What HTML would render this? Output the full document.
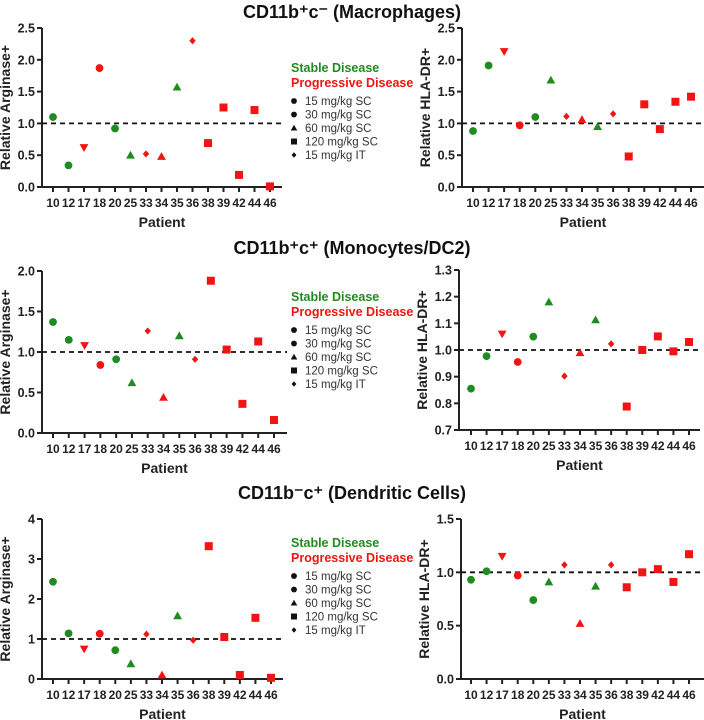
<!DOCTYPE html>
<html><head><meta charset="utf-8"><style>
html,body{margin:0;padding:0;background:#fff;}
svg{display:block;font-family:"Liberation Sans",Arial,sans-serif;}
</style></head><body>
<svg id="fig" width="704" height="720" viewBox="0 0 704 720"></svg>
<script>
const patients=["10","12","17","18","20","25","33","34","35","36","38","39","42","44","46"];
const shapes=["circle","circle","down","circle","circle","tri","diamond","tri","tri","diamond","square","square","square","square","square"];
const groups=["S","S","P","P","S","S","P","P","S","P","P","P","P","P","P"];
const argMacro=[1.1,0.34,0.62,1.87,0.92,0.5,0.52,0.48,1.57,2.3,0.69,1.25,0.19,1.21,0.01];
const hlaMacro=[0.88,1.91,2.13,0.97,1.1,1.68,1.11,1.06,0.95,1.15,0.48,1.3,0.91,1.34,1.42];
const argMono=[1.37,1.15,1.08,0.84,0.91,0.62,1.26,0.44,1.2,0.91,1.88,1.03,0.36,1.13,0.16];
const hlaMono=[0.855,0.977,1.06,0.955,1.05,1.18,0.902,0.99,1.113,1.023,0.788,1.0,1.051,0.995,1.03];
const argDC=[2.43,1.14,0.75,1.13,0.72,0.38,1.12,0.1,1.58,0.97,3.32,1.05,0.1,1.53,0.03];
const hlaDC=[0.93,1.01,1.15,0.97,0.74,0.91,1.07,0.52,0.87,1.07,0.86,1.0,1.03,0.91,1.17];
const ticksArg1=["0.0","0.5","1.0","1.5","2.0","2.5"];
const ticksArg2=["0.0","0.5","1.0","1.5","2.0"];
const ticksHla2=["0.7","0.8","0.9","1.0","1.1","1.2","1.3"];
const ticksArg3=["0","1","2","3","4"];
const ticksHla3=["0.0","0.5","1.0","1.5"];
const legendLabels=["15 mg/kg SC","30 mg/kg SC","60 mg/kg SC","120 mg/kg SC","15 mg/kg IT"];
const legendShapes=["circle","circle","tri","square","diamond"];
const titles=["CD11b\u207Ac\u207B (Macrophages)","CD11b\u207Ac\u207A (Monocytes/DC2)","CD11b\u207Bc\u207A (Dendritic Cells)"];

const NS="http://www.w3.org/2000/svg";
const svg=document.getElementById('fig');
function mk(tag,attrs,parent){const e=document.createElementNS(NS,tag);for(const k in attrs)e.setAttribute(k,attrs[k]);(parent||svg).appendChild(e);return e;}
const GREEN="#1e8c1e",RED="#f01414";
function marker(g,shape,x,y,col,s){
  s=s||1;let e;
  if(shape==="circle")e=mk('circle',{cx:x,cy:y,r:3.9*s,fill:col},g);
  else if(shape==="square")e=mk('rect',{x:x-4*s,y:y-4*s,width:8*s,height:8*s,fill:col},g);
  else if(shape==="tri")e=mk('polygon',{points:`${x},${y-4.4*s} ${x+4.4*s},${y+3.4*s} ${x-4.4*s},${y+3.4*s}`,fill:col},g);
  else if(shape==="down")e=mk('polygon',{points:`${x},${y+4.4*s} ${x+4.4*s},${y-3.4*s} ${x-4.4*s},${y-3.4*s}`,fill:col},g);
  else e=mk('polygon',{points:`${x},${y-3.6*s} ${x+3.2*s},${y} ${x},${y+3.6*s} ${x-3.2*s},${y}`,fill:col},g);
  return e;
}
function panel(name,o,vals,ticks,ymin,ymax,ytitle){
  const g=mk('g',{});
  
  
  const ys=v=>o.bot-(v-ymin)/(ymax-ymin)*(o.bot-o.top);
  const xs=i=>o.c0+i*(o.c1-o.c0)/(patients.length-1);
  const ax=mk('path',{d:`M${o.ax},${o.top} V${o.bot} H${o.end}`,stroke:"#222",fill:"none","stroke-width":2},g);
  
  
  ticks.forEach(t=>{const y=ys(parseFloat(t));
    mk('line',{x1:o.ax-5,x2:o.ax,y1:y,y2:y,stroke:"#222","stroke-width":2},g);
    const tx=mk('text',{x:o.ax-7,y:y+4.5,"text-anchor":"end","font-size":12.5,"font-weight":"bold",fill:"#222"},g);
    tx.textContent=t;
    
    
  });
  patients.forEach((p,i)=>{const x=xs(i);
    mk('line',{x1:x,x2:x,y1:o.bot,y2:o.bot+5,stroke:"#222","stroke-width":2},g);
    const tx=mk('text',{x:x,y:o.bot+20,"text-anchor":"middle","font-size":12,"font-weight":"bold",fill:"#222"},g);
    tx.textContent=p;
    
    
  });
  const ref=mk('line',{x1:o.ax,x2:o.end,y1:ys(1),y2:ys(1),stroke:"#111","stroke-width":1.8,"stroke-dasharray":"5,4"},g);
  
  
  vals.forEach((v,i)=>{
    const m=marker(g,shapes[i],xs(i),ys(v),groups[i]==="S"?GREEN:RED);
    
    
  });
  const xt=mk('text',{x:(o.ax+o.end)/2,y:o.bot+40,"text-anchor":"middle","font-size":14,"font-weight":"bold",fill:"#222"},g);
  xt.textContent="Patient";
  
  
  const cy=(o.top+o.bot)/2, tx0=o.ax-32;
  const yt=mk('text',{x:tx0,y:cy,"text-anchor":"middle","font-size":14,"font-weight":"bold",fill:"#222",transform:`rotate(-90 ${tx0} ${cy})`},g);
  yt.textContent=ytitle;
  
  
}
function legend(x,y0){
  const g=mk('g',{});
  
  
  const s=mk('text',{x:x,y:y0,"font-size":12.5,"font-weight":"bold",fill:GREEN},g);s.textContent="Stable Disease";
  
  
  const p=mk('text',{x:x,y:y0+15,"font-size":12.5,"font-weight":"bold",fill:RED},g);p.textContent="Progressive Disease";
  
  
  legendLabels.forEach((l,i)=>{const y=y0+33+i*13.5;
    marker(g,legendShapes[i],x+3,y-4,"#111",0.75);
    const t=mk('text',{x:x+14,y:y,"font-size":11.5,fill:"#333"},g);t.textContent=l;
    
    
  });
}
function title(txt,y){const t=mk('text',{x:352,y:y,"text-anchor":"middle","font-size":18,"font-weight":"bold",fill:"#111"});t.textContent=txt;
  
  }
title(titles[0],18);title(titles[1],254);title(titles[2],499);
panel('macrophage-arginase-chart',{ax:42,top:28,bot:187,end:282,c0:53,c1:270},argMacro,ticksArg1,0,2.5,"Relative Arginase+");
panel('macrophage-hla-chart',{ax:462,top:28,bot:187,end:704,c0:473,c1:691},hlaMacro,ticksArg1,0,2.5,"Relative HLA-DR+");
panel('monocyte-arginase-chart',{ax:42,top:271,bot:433,end:287,c0:53,c1:274},argMono,ticksArg2,0,2.0,"Relative Arginase+");
panel('monocyte-hla-chart',{ax:459,top:270,bot:430,end:700,c0:471,c1:689},hlaMono,ticksHla2,0.7,1.3,"Relative HLA-DR+");
panel('dendritic-arginase-chart',{ax:42,top:519,bot:679,end:283,c0:53,c1:271},argDC,ticksArg3,0,4,"Relative Arginase+");
panel('dendritic-hla-chart',{ax:461,top:519,bot:679,end:704,c0:471,c1:689},hlaDC,ticksHla3,0,1.5,"Relative HLA-DR+");
legend(291,72);legend(291,301);legend(291,547);
</script>
</body></html>
